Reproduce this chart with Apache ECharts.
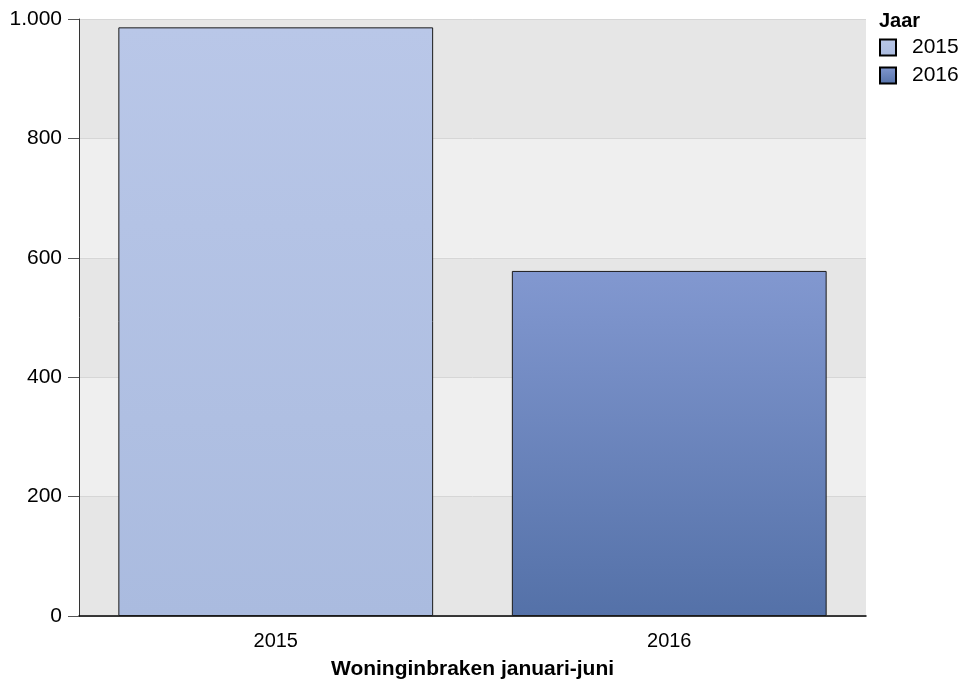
<!DOCTYPE html>
<html lang="nl">
<head>
    <meta charset="UTF-8">
    <title>Woninginbraken januari-juni</title>
    <script src="https://cdn.jsdelivr.net/npm/echarts@6/dist/echarts.min.js"></script>
    <style>
        body { margin: 0; padding: 0; background: #fff; }
        #chart { width: 964px; height: 688px; }
    </style>
</head>
<body>
<div id="chart"></div>
<script>
    // data
    const categories = ["2015", "2016"];
    const values = [986, 578];
    const yTicks = [0, 200, 400, 600, 800, 1000];

    const gradients = [
        ["#b9c7e8", "#aabbdf"],
        ["#8298d0", "#5471a8"]
    ];

    const chart = echarts.init(document.getElementById("chart"));
    const font = "'Liberation Sans', Arial, sans-serif";

    const series = categories.map((name, i) => ({
        name: name,
        type: "bar",
        stack: "jaar",
        barCategoryGap: "20%",
        data: categories.map((c, j) => (j === i ? values[i] : "-")),
        itemStyle: {
            color: new echarts.graphic.LinearGradient(0, 0, 0, 1, [
                { offset: 0, color: gradients[i][0] },
                { offset: 1, color: gradients[i][1] }
            ]),
            borderColor: "#1a1a1a",
            borderWidth: 1
        }
    }));

    chart.setOption({
        animation: false,
        textStyle: { fontFamily: font },
        grid: { left: 79, right: 98, top: 19, bottom: 72 },
        title: {
            text: "Jaar",
            left: 874,
            top: 6,
            textStyle: { fontFamily: font, fontSize: 20, fontWeight: "bold", color: "#000" }
        },
        legend: {
            orient: "vertical",
            left: 874,
            top: 32,
            padding: 5,
            itemWidth: 16,
            itemHeight: 16,
            itemGap: 7,
            icon: "rect",
            data: categories,
            itemStyle: { borderColor: "#000", borderWidth: 2 },
            textStyle: { fontFamily: font, fontSize: 21, color: "#000", padding: [0, 0, 0, 11] }
        },
        xAxis: {
            type: "category",
            data: categories,
            name: "Woninginbraken januari-juni",
            nameLocation: "middle",
            nameGap: 43,
            nameTextStyle: { fontFamily: font, fontSize: 21, fontWeight: "bold", color: "#000" },
            axisLine: { lineStyle: { color: "#000", width: 1.5 } },
            axisTick: { alignWithLabel: true, length: 11, lineStyle: { color: "#555" } },
            axisLabel: { fontFamily: font, fontSize: 20, color: "#000", margin: 15 }
        },
        yAxis: {
            type: "value",
            min: yTicks[0],
            max: yTicks[yTicks.length - 1],
            interval: 200,
            axisLine: { show: true, lineStyle: { color: "#333" } },
            axisTick: { show: true, length: 11, lineStyle: { color: "#555" } },
            axisLabel: {
                fontFamily: font,
                fontSize: 21,
                color: "#000",
                margin: 17,
                formatter: (v) => v.toLocaleString("de-DE")
            },
            splitLine: { lineStyle: { color: "#d6d6d6" } },
            splitArea: { show: true, areaStyle: { color: ["#e6e6e6", "#efefef"] } }
        },
        series: series
    });
</script>
</body>
</html>
